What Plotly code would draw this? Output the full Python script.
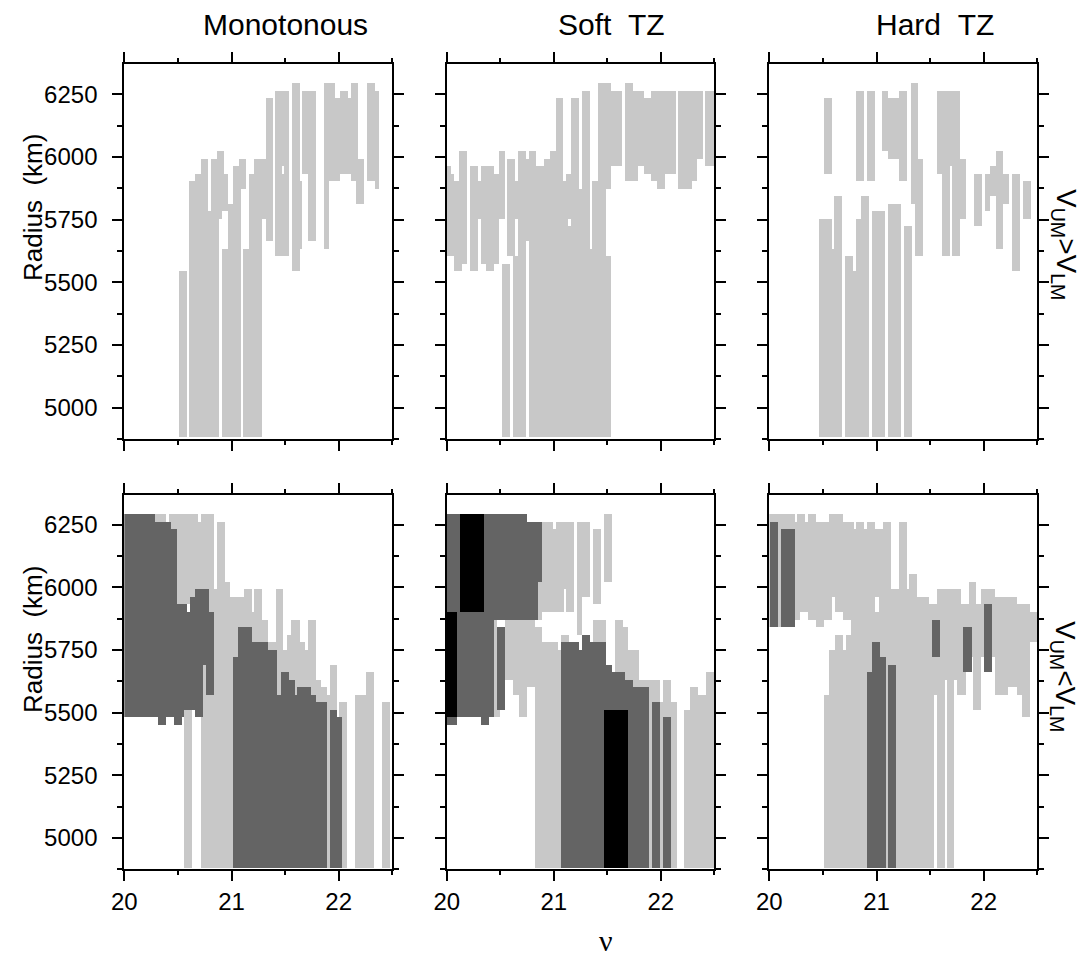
import plotly.graph_objects as go

# Each cell list: (nu_min, nu_max, radius_top_km, radius_bottom_km)

# --- V_UM > V_LM ---
mono_up_light = [
    (20.517, 20.592, 5544, 4884), (20.610, 20.666, 5904, 4884), (20.666, 20.716, 5934, 4884),
    (20.716, 20.784, 5994, 4884), (20.784, 20.815, 5784, 4884), (20.815, 20.864, 5994, 4884),
    (20.864, 20.886, 6024, 4884), (20.886, 20.917, 6024, 5754), (20.917, 20.936, 6024, 5784),
    (20.917, 20.967, 5634, 4884), (20.936, 20.967, 5934, 5784), (20.967, 21.019, 5814, 4884),
    (21.019, 21.069, 5964, 4884), (21.069, 21.094, 5994, 4884), (21.094, 21.137, 5994, 5874),
    (21.112, 21.168, 5634, 4884), (21.168, 21.217, 5934, 4884), (21.217, 21.289, 5994, 4884),
    (21.289, 21.320, 5994, 5754), (21.320, 21.391, 6234, 5664), (21.410, 21.471, 6264, 5604),
    (21.471, 21.490, 6264, 5964), (21.471, 21.490, 5934, 5604), (21.490, 21.540, 6264, 5604),
    (21.568, 21.642, 6294, 5544), (21.642, 21.660, 5904, 5634), (21.660, 21.735, 6264, 5934),
    (21.719, 21.787, 6264, 5664), (21.865, 21.911, 6294, 5634), (21.911, 21.970, 6294, 5904),
    (21.970, 22.014, 6234, 5904), (22.014, 22.088, 6264, 5934), (22.088, 22.116, 6234, 5934),
    (22.116, 22.187, 6294, 5904), (22.162, 22.237, 5994, 5814), (22.265, 22.339, 6294, 5904),
    (22.339, 22.382, 6264, 5874),
]

soft_up_light = [
    (20.000, 20.034, 5964, 5604), (20.034, 20.065, 5934, 5604), (20.065, 20.112, 5904, 5544),
    (20.112, 20.137, 6024, 5544), (20.137, 20.183, 6024, 5574), (20.211, 20.286, 5964, 5544),
    (20.286, 20.317, 5904, 5754), (20.317, 20.361, 5964, 5574), (20.361, 20.435, 5964, 5544),
    (20.435, 20.482, 5934, 5574), (20.482, 20.538, 6024, 5754), (20.510, 20.585, 5574, 4884),
    (20.557, 20.631, 5994, 5604), (20.613, 20.734, 5604, 4884), (20.631, 20.659, 5904, 5754),
    (20.659, 20.734, 6024, 4884), (20.734, 20.762, 5994, 5664), (20.762, 20.836, 6024, 4884),
    (20.836, 20.911, 5964, 4884), (20.911, 20.967, 5994, 4884), (20.967, 21.014, 6024, 4884),
    (21.014, 21.088, 6234, 4884), (21.088, 21.116, 5904, 4884), (21.116, 21.135, 5934, 4884),
    (21.135, 21.163, 5934, 5754), (21.135, 21.163, 5724, 4884), (21.163, 21.238, 6234, 4884),
    (21.238, 21.266, 5874, 4884), (21.266, 21.340, 6264, 4884), (21.340, 21.359, 5634, 4884),
    (21.359, 21.415, 5904, 4884), (21.415, 21.489, 6294, 4884), (21.489, 21.536, 6294, 5874),
    (21.489, 21.536, 5604, 4884), (21.536, 21.639, 6264, 5964), (21.667, 21.741, 6294, 5904),
    (21.741, 21.785, 6264, 5904), (21.785, 21.844, 6264, 5964), (21.844, 21.909, 6234, 5934),
    (21.909, 21.965, 6264, 5904), (21.965, 22.040, 6264, 5874), (22.040, 22.142, 6264, 5934),
    (22.161, 22.292, 6264, 5874), (22.292, 22.338, 6264, 5904), (22.338, 22.394, 6264, 5994),
    (22.413, 22.500, 6264, 5964),
]

hard_up_light = [
    (20.517, 20.592, 6234, 5934), (20.815, 20.889, 6264, 5904), (20.917, 20.991, 6264, 5904),
    (21.056, 21.112, 6264, 6024), (21.112, 21.214, 6234, 5994), (21.214, 21.289, 6264, 5904),
    (21.320, 21.391, 6294, 5814), (21.366, 21.437, 5994, 5604), (21.568, 21.614, 6264, 5934),
    (21.614, 21.688, 6264, 5604), (21.688, 21.707, 6264, 5964), (21.707, 21.781, 6264, 5604),
    (21.781, 21.837, 5994, 5754), (21.911, 21.986, 5934, 5724), (22.014, 22.060, 5934, 5784),
    (22.060, 22.116, 5964, 5844), (22.116, 22.187, 6024, 5634), (22.162, 22.237, 5934, 5814),
    (22.265, 22.339, 5934, 5544), (22.367, 22.441, 5904, 5754),
    (20.462, 20.592, 5754, 4884), (20.592, 20.610, 5634, 4884), (20.610, 20.685, 5844, 4884),
    (20.713, 20.787, 5604, 4884), (20.787, 20.815, 5544, 4884), (20.815, 20.861, 5754, 4884),
    (20.861, 20.936, 5844, 4884), (20.963, 21.084, 5784, 4884), (21.112, 21.233, 5814, 4884),
    (21.261, 21.335, 5724, 4884),
]

# --- V_UM < V_LM ---
mono_lo_light = [
    (20.288, 20.391, 6294, 6234), (20.419, 20.689, 6294, 5934), (20.689, 20.717, 6264, 5934),
    (20.717, 20.837, 6294, 4884), (20.837, 20.865, 5994, 4884), (20.865, 20.940, 6264, 4884),
    (20.940, 20.986, 6024, 4884), (20.986, 21.117, 5964, 4884), (21.117, 21.191, 5994, 4884),
    (21.191, 21.210, 5904, 4884), (21.210, 21.284, 5994, 4884), (21.284, 21.340, 5874, 4884),
    (21.340, 21.414, 5784, 4884), (21.414, 21.486, 5994, 4884), (21.486, 21.517, 5754, 4884),
    (21.517, 21.560, 5814, 4884), (21.560, 21.638, 5874, 4884), (21.638, 21.684, 5784, 4884),
    (21.684, 21.712, 5754, 4884), (21.712, 21.787, 5874, 4884), (21.787, 21.842, 5634, 4884),
    (21.842, 21.889, 5604, 4884), (21.889, 21.917, 5574, 4884), (21.917, 21.991, 5694, 4884),
    (22.010, 22.084, 5544, 4884), (22.159, 22.261, 5574, 4884), (22.261, 22.336, 5664, 4884),
    (22.410, 22.484, 5544, 4884), (20.558, 20.633, 5514, 4884),
]
mono_lo_dark = [
    (20.000, 20.288, 6294, 5484), (20.288, 20.437, 6264, 5484), (20.319, 20.391, 5484, 5454),
    (20.437, 20.493, 6234, 5484), (20.465, 20.540, 5484, 5454), (20.493, 20.558, 5934, 5484),
    (20.558, 20.586, 5934, 5514), (20.586, 20.614, 5904, 5514), (20.614, 20.664, 5964, 5514),
    (20.664, 20.735, 5994, 5484), (20.735, 20.763, 5994, 5694), (20.763, 20.791, 5994, 5574),
    (20.791, 20.837, 5904, 5574), (21.014, 21.061, 5724, 4884), (21.061, 21.191, 5844, 4884),
    (21.191, 21.340, 5784, 4884), (21.340, 21.430, 5754, 4884), (21.430, 21.461, 5574, 4884),
    (21.461, 21.535, 5664, 4884), (21.535, 21.591, 5634, 4884), (21.591, 21.610, 5574, 4884),
    (21.610, 21.740, 5604, 4884), (21.740, 21.787, 5574, 4884), (21.787, 21.889, 5544, 4884),
    (21.917, 21.991, 5514, 4884), (21.991, 22.035, 5484, 4884),
]
mono_lo_black = []

soft_lo_light = [
    (20.417, 20.491, 5514, 5484), (20.435, 20.463, 5874, 5484), (20.538, 20.613, 5874, 5634),
    (20.613, 20.669, 5874, 5574), (20.669, 20.743, 5874, 5484), (20.743, 20.818, 5874, 5604),
    (20.846, 20.892, 6024, 5874), (20.818, 20.892, 5844, 4884), (20.892, 20.994, 6264, 5904),
    (20.892, 21.042, 5784, 4884), (20.994, 21.022, 6234, 5904), (21.022, 21.097, 6264, 5904),
    (21.097, 21.116, 6264, 5994), (21.116, 21.191, 6264, 5904), (21.042, 21.070, 5754, 4884),
    (21.070, 21.144, 5814, 5784), (21.219, 21.266, 6264, 5814), (21.266, 21.340, 6264, 5964),
    (21.368, 21.443, 6234, 5934), (21.471, 21.545, 6294, 6024), (21.368, 21.489, 5874, 5784),
    (21.574, 21.649, 5874, 5664), (21.649, 21.695, 5844, 5634), (21.695, 21.797, 5754, 5604),
    (21.797, 21.891, 5634, 5574), (21.891, 21.919, 5634, 4884), (21.919, 21.993, 5634, 5544),
    (21.993, 22.146, 5544, 4884), (22.021, 22.096, 5634, 5484), (22.217, 22.273, 5514, 4884),
    (22.273, 22.348, 5604, 4884), (22.348, 22.422, 5574, 4884), (22.422, 22.500, 5664, 4884),
]
soft_lo_dark = [
    (20.000, 20.118, 6294, 5904), (20.000, 20.090, 5484, 5454), (20.342, 20.743, 6294, 5874),
    (20.743, 20.892, 6264, 6024), (20.743, 20.846, 6024, 5874), (20.090, 20.435, 5904, 5484),
    (20.314, 20.389, 5484, 5454), (20.435, 20.585, 5904, 5874), (20.463, 20.538, 5844, 5514),
    (21.070, 21.238, 5784, 4884), (21.238, 21.266, 5754, 4884), (21.266, 21.340, 5814, 4884),
    (21.340, 21.489, 5784, 4884), (21.489, 21.545, 5694, 4884), (21.545, 21.667, 5664, 4884),
    (21.667, 21.741, 5634, 4884), (21.741, 21.891, 5604, 4884), (21.919, 21.993, 5544, 4884),
    (22.021, 22.096, 5484, 4884),
]
soft_lo_black = [
    (20.118, 20.342, 6294, 5904), (20.000, 20.090, 5904, 5484), (21.471, 21.695, 5514, 4884),
]

hard_lo_light = [
    (20.000, 20.242, 6294, 5844), (20.242, 20.261, 6264, 5874), (20.261, 20.289, 6294, 5874),
    (20.289, 20.335, 6294, 5904), (20.335, 20.363, 6264, 5904), (20.363, 20.437, 6294, 5874),
    (20.437, 20.512, 6264, 5844), (20.512, 20.558, 6264, 5874), (20.512, 20.558, 5574, 4884),
    (20.558, 20.586, 6294, 5874), (20.586, 20.614, 6294, 5964), (20.558, 20.614, 5754, 4884),
    (20.614, 20.689, 6294, 5904), (20.614, 20.689, 5814, 4884), (20.689, 20.717, 6264, 5874),
    (20.689, 20.717, 5754, 4884), (20.717, 20.763, 6264, 5874), (20.717, 20.763, 5814, 4884),
    (20.763, 20.791, 6264, 4884), (20.791, 20.810, 6234, 4884), (20.810, 20.884, 6264, 4884),
    (20.884, 20.912, 6234, 4884), (20.912, 20.986, 6264, 4884), (20.986, 21.023, 6234, 5964),
    (20.986, 21.023, 5904, 4884), (21.023, 21.060, 6234, 4884), (21.060, 21.135, 6264, 4884),
    (21.135, 21.210, 5994, 4884), (21.210, 21.284, 6264, 4884), (21.284, 21.303, 5994, 4884),
    (21.303, 21.377, 6054, 4884), (21.377, 21.489, 5964, 4884), (21.489, 21.535, 5934, 4884),
    (21.535, 21.563, 5934, 5574), (21.563, 21.638, 5994, 4884), (21.638, 21.656, 5994, 5634),
    (21.656, 21.730, 5994, 4884), (21.730, 21.758, 5994, 5634), (21.758, 21.787, 5994, 5574),
    (21.787, 21.833, 5934, 5574), (21.833, 21.861, 5934, 5724), (21.861, 21.907, 6024, 5724),
    (21.907, 21.935, 6024, 5514), (21.935, 21.981, 5934, 5514), (21.981, 22.112, 5994, 5724),
    (22.112, 22.233, 5964, 5574), (22.233, 22.317, 5964, 5604), (22.317, 22.363, 5934, 5574),
    (22.363, 22.437, 5934, 5484), (22.437, 22.500, 5904, 5784),
]
hard_lo_dark = [
    (20.009, 20.084, 6264, 5844), (20.112, 20.242, 6234, 5844), (20.912, 20.958, 5664, 4884),
    (20.958, 21.033, 5784, 4884), (21.033, 21.088, 5724, 4884), (21.107, 21.181, 5694, 4884),
    (21.517, 21.591, 5874, 5724), (21.814, 21.889, 5844, 5664), (22.010, 22.084, 5934, 5664),
]

column_titles = ["Monotonous", "Soft\u00a0\u00a0TZ", "Hard\u00a0\u00a0TZ"]
row_labels = ["V<sub>UM</sub>&gt;V<sub>LM</sub>", "V<sub>UM</sub>&lt;V<sub>LM</sub>"]
y_title = "Radius\u00a0\u00a0(km)"
x_title = "\u03bd"

nu_range = [20, 22.5]
radius_range = [4875, 6371]
nu_ticks = [20, 21, 22]
nu_minor = [20.5, 21.5, 22.5]
radius_ticks = [5000, 5250, 5500, 5750, 6000, 6250]
radius_minor = [4875, 5125, 5375, 5625, 5875, 6125]

LIGHT, DARK, BLACK = "#c8c8c8", "#646464", "#000000"

panels = [
    [mono_up_light, [], []],
    [soft_up_light, [], []],
    [hard_up_light, [], []],
    [mono_lo_light, mono_lo_dark, mono_lo_black],
    [soft_lo_light, soft_lo_dark, soft_lo_black],
    [hard_lo_light, hard_lo_dark, []],
]

W, H = 1088, 956
col_px = [(124.3, 392.3), (446.8, 714.3), (769.3, 1037.3)]
row_px = [(64.0, 439.0), (494.5, 869.3)]
FONT = "Liberation Sans, Arial, sans-serif"

fig = go.Figure()


def add_cells(cells, color, idx):
    if not cells:
        return
    lo = [c[0] for c in cells]
    hi = [c[1] for c in cells]
    top = [c[2] for c in cells]
    bot = [c[3] for c in cells]
    fig.add_trace(go.Bar(
        x=[(a + b) / 2 for a, b in zip(lo, hi)],
        width=[b - a for a, b in zip(lo, hi)],
        base=bot,
        y=[t - b for t, b in zip(top, bot)],
        marker=dict(color=color, line=dict(width=0)),
        xaxis="x" if idx == 1 else f"x{idx}",
        yaxis="y" if idx == 1 else f"y{idx}",
        showlegend=False, hoverinfo="skip",
    ))


layout = dict(
    width=W, height=H, margin=dict(l=0, r=0, t=0, b=0, autoexpand=False),
    paper_bgcolor="white", plot_bgcolor="white",
    barmode="overlay", bargap=0, showlegend=False,
    font=dict(family=FONT, color="black"),
)

for i, (light, dark, black) in enumerate(panels):
    idx = i + 1
    r, c = divmod(i, 3)
    add_cells(light, LIGHT, idx)
    add_cells(dark, DARK, idx)
    add_cells(black, BLACK, idx)

    x0, x1 = col_px[c]
    y0, y1 = row_px[r]
    xa = dict(
        domain=[x0 / W, x1 / W], range=nu_range, anchor="y" if idx == 1 else f"y{idx}",
        tickmode="array", tickvals=nu_ticks, ticktext=[str(v) for v in nu_ticks],
        ticks="outside", ticklen=10, tickwidth=1.5, tickcolor="black",
        minor=dict(tickvals=nu_minor, ticks="outside", ticklen=4, tickwidth=1.5, tickcolor="black"),
        showline=True, linewidth=2, linecolor="black", mirror="allticks",
        showgrid=False, zeroline=False, fixedrange=True, automargin=False,
        showticklabels=(r == 1), tickfont=dict(size=24, family=FONT, color="black"),
        ticklabelstandoff=0,
    )
    ya = dict(
        domain=[1 - y1 / H, 1 - y0 / H], range=radius_range, anchor="x" if idx == 1 else f"x{idx}",
        tickmode="array", tickvals=radius_ticks, ticktext=[str(v) for v in radius_ticks],
        ticks="outside", ticklen=10, tickwidth=1.5, tickcolor="black",
        minor=dict(tickvals=radius_minor, ticks="outside", ticklen=5, tickwidth=1.5, tickcolor="black"),
        showline=True, linewidth=2, linecolor="black", mirror="allticks",
        showgrid=False, zeroline=False, fixedrange=True, automargin=False,
        showticklabels=(c == 0), tickfont=dict(size=24, family=FONT, color="black"),
        ticklabelstandoff=10,
    )
    layout["xaxis" if idx == 1 else f"xaxis{idx}"] = xa
    layout["yaxis" if idx == 1 else f"yaxis{idx}"] = ya

annotations = []
title_centers = [285, 611, 935]
for cx, t in zip(title_centers, column_titles):
    annotations.append(dict(text=t, x=cx / W, y=1 - 25 / H, xref="paper", yref="paper",
                            xanchor="center", yanchor="middle", showarrow=False,
                            font=dict(size=30, family=FONT, color="black")))
ylabel_centers = [208, 640]
rlabel_centers = [244, 676]
for yc_t, yc_r, lab in zip(ylabel_centers, rlabel_centers, row_labels):
    annotations.append(dict(text=y_title, x=33 / W, y=1 - yc_t / H, xref="paper", yref="paper",
                            xanchor="center", yanchor="middle", textangle=-90, showarrow=False,
                            font=dict(size=26, family=FONT, color="black")))
    annotations.append(dict(text=lab, x=1064 / W, y=1 - yc_r / H, xref="paper", yref="paper",
                            xanchor="center", yanchor="middle", textangle=90, showarrow=False,
                            font=dict(size=28, family=FONT, color="black")))
annotations.append(dict(text=x_title, x=606 / W, y=1 - 940 / H, xref="paper", yref="paper",
                        xanchor="center", yanchor="middle", showarrow=False,
                        font=dict(size=30, family="Liberation Serif, Times New Roman, serif",
                                  color="black")))
layout["annotations"] = annotations

fig.update_layout(**layout)
fig.write_html("out.html")
